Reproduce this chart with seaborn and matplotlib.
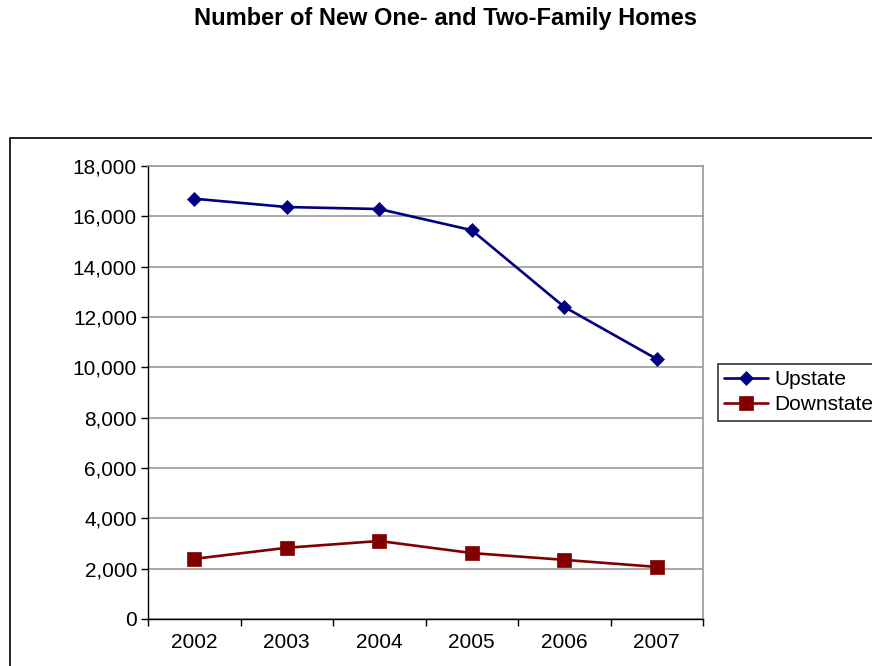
import matplotlib
matplotlib.use("Agg")
import matplotlib.pyplot as plt
from matplotlib.patches import Rectangle
from matplotlib.ticker import FuncFormatter, FixedLocator
import seaborn as sns
import pandas as pd

years = ["2002", "2003", "2004", "2005", "2006", "2007"]
upstate = [16700, 16370, 16290, 15450, 12400, 10330]
downstate = [2390, 2830, 3100, 2620, 2350, 2070]
series_names = ["Upstate", "Downstate"]
y_ticks = [0, 2000, 4000, 6000, 8000, 10000, 12000, 14000, 16000, 18000]

sns.set_style("white")
plt.rcParams["font.family"] = ["Liberation Sans", "DejaVu Sans"]
plt.rcParams["text.color"] = "black"
plt.rcParams["xtick.color"] = "black"
plt.rcParams["ytick.color"] = "black"
plt.rcParams["axes.labelcolor"] = "black"

df = pd.DataFrame({
    "Year": years * 2,
    "Homes": upstate + downstate,
    "Region": [series_names[0]] * len(years) + [series_names[1]] * len(years),
})

fig = plt.figure(figsize=(8.72, 6.66), dpi=100)
ax = fig.add_axes([148 / 872, 47 / 666, 555 / 872, 453 / 666])

palette = {"Upstate": "#000080", "Downstate": "#800000"}
markers = {"Upstate": "D", "Downstate": "s"}
sns.lineplot(data=df, x="Year", y="Homes", hue="Region", style="Region",
             palette=palette, markers=markers, dashes=False, linewidth=1.9,
             markeredgewidth=0.5, ax=ax, legend=False, sort=False)
for line, ms in zip(ax.lines, [7.5, 9.5]):
    line.set_markersize(ms)
    line.set_markeredgecolor(line.get_color())

ax.set_xlim(-0.5, len(years) - 0.5)
ax.set_ylim(0, 18000)
ax.set_yticks(y_ticks)
ax.yaxis.set_major_formatter(FuncFormatter(lambda v, p: f"{int(v):,}"))
ax.yaxis.grid(True, color="#9a9a9a", linewidth=1.2)
ax.set_axisbelow(True)

# category labels centred, tick marks on category boundaries
ax.xaxis.set_major_locator(FixedLocator([i - 0.5 for i in range(len(years) + 1)]))
ax.xaxis.set_minor_locator(FixedLocator(list(range(len(years)))))
ax.set_xticklabels([""] * (len(years) + 1))
ax.set_xticklabels(years, minor=True)
ax.tick_params(axis="x", which="major", length=5, width=1, color="black", direction="out", bottom=True)
ax.tick_params(axis="x", which="minor", length=0, labelsize=15, pad=10, labelcolor="black")
ax.tick_params(axis="y", length=5, width=1, color="black", direction="out", left=True,
               labelsize=15, pad=3, labelcolor="black")
ax.set_xlabel("")
ax.set_ylabel("")

for side in ["left", "bottom"]:
    ax.spines[side].set_color("black")
    ax.spines[side].set_linewidth(1)
for side in ["top", "right"]:
    ax.spines[side].set_color("#9a9a9a")
    ax.spines[side].set_linewidth(1.2)

fig.text(445 / 872, 1 - 18 / 666, "Number of New One- and Two-Family Homes",
         ha="center", va="center", fontsize=17, fontweight="bold", color="black")

# chart-area border
fig.add_artist(Rectangle((10 / 872, -0.2), 1.5, 0.2 + 1 - 138 / 666,
                         transform=fig.transFigure, fill=False,
                         edgecolor="black", linewidth=1.2))

handles = ax.lines[:2]
leg = fig.legend(handles, series_names, loc="upper left",
                 bbox_to_anchor=(718 / 872, 1 - 364 / 666),
                 borderaxespad=0, fontsize=15, frameon=True, fancybox=False,
                 handlelength=2.1, handletextpad=0.3, labelspacing=0.3,
                 borderpad=0.3)
leg.get_frame().set_edgecolor("black")
leg.get_frame().set_linewidth(1.2)
for t in leg.get_texts():
    t.set_color("black")

fig.savefig("out.png", dpi=100)
